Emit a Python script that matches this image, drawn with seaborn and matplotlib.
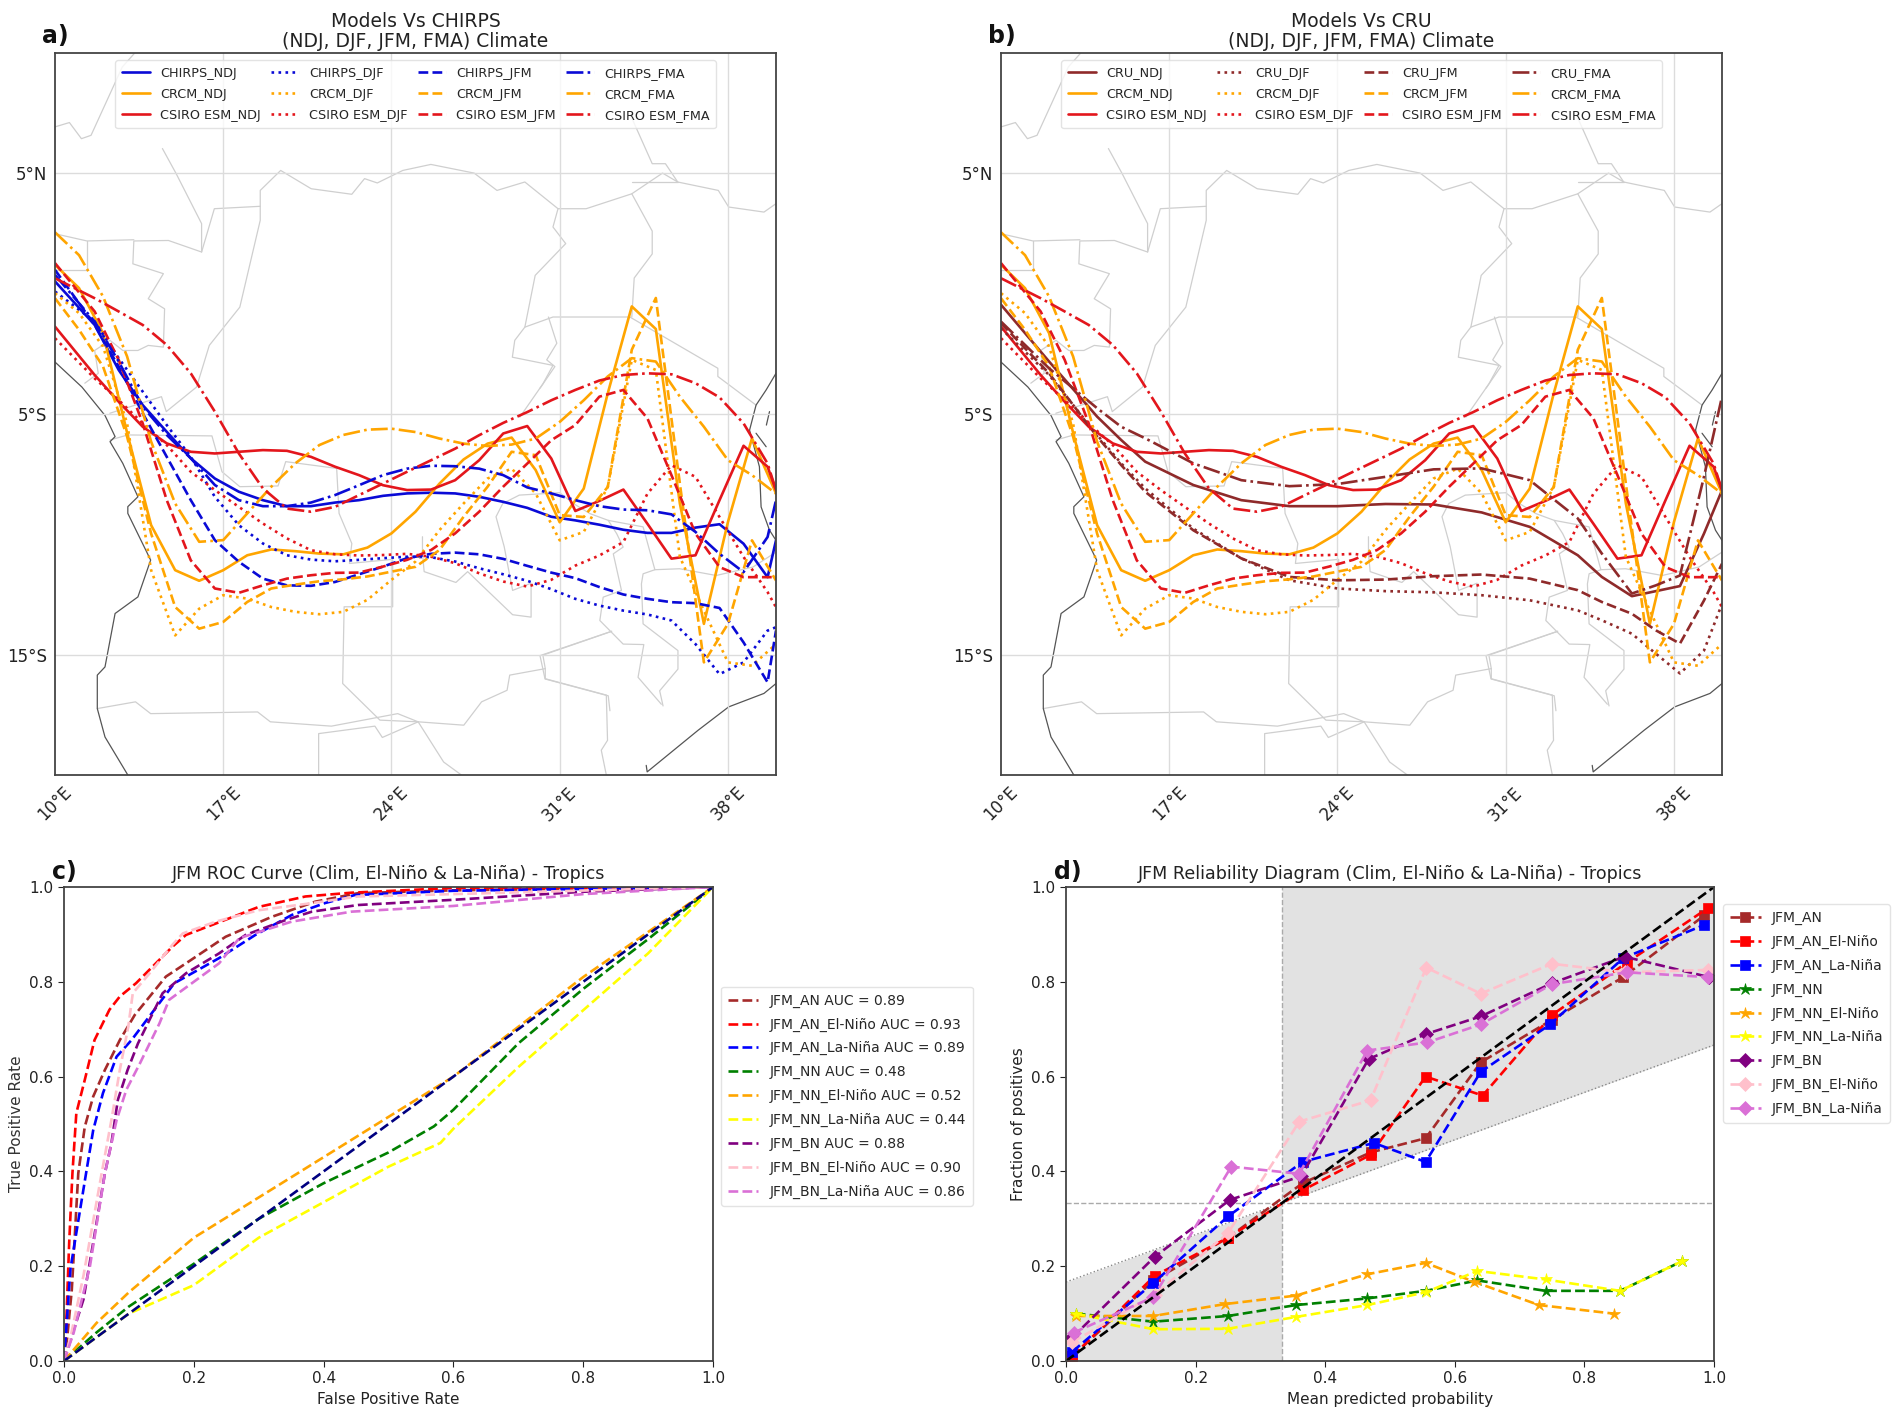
import matplotlib
matplotlib.use("Agg")
import matplotlib.pyplot as plt
import seaborn as sns

sns.set_style("white")
plt.rcParams["font.family"] = ["DejaVu Sans"]

W, H = 1902, 1418

# ---- map panels: latitude of each line against longitude ----
crcm_lon = list(range(10, 41))
csiro_lon = [10, 11.65, 12.65, 13.65, 14.65, 15.65, 16.65, 17.65, 18.65, 19.65, 20.65, 21.65, 22.65, 23.65, 24.65,
             25.65, 26.65, 27.65, 28.65, 29.65, 30.65, 31.65, 32.65, 33.65, 34.65, 35.65, 36.65, 37.65, 38.65, 39.65, 40]
cru_lon = [10, 12, 14, 15, 16, 18, 20, 22, 24, 26, 28, 30, 32, 34, 35, 36.25, 37.25, 38.25, 39.25, 40]

chirps_ndj = [0.51, -1.3, -3.17, -4.63, -5.74, -6.84, -7.68, -8.23, -8.58, -8.83, -8.83, -8.68, -8.58, -8.4, -8.3,
              -8.27, -8.3, -8.44, -8.65, -8.9, -9.27, -9.42, -9.6, -9.81, -9.94, -9.94, -9.72, -9.58, -10.39, -11.78, -10.25]
chirps_djf = [0.09, -1.16, -2.68, -4.07, -5.46, -6.78, -8.44, -9.62, -10.38, -10.87, -11.05, -11.12, -11.06, -10.99, -10.93,
              -10.95, -11.13, -11.41, -11.66, -11.93, -12.28, -12.68, -12.96, -13.17, -13.33, -13.58, -14.56, -15.81, -15.32, -14.0, -13.86]
chirps_jfm = [0.99, -1.3, -3.03, -4.97, -6.78, -8.58, -10.24, -11.14, -11.84, -12.12, -12.14, -11.98, -11.66, -11.34, -10.99,
              -10.81, -10.76, -10.83, -11.02, -11.31, -11.59, -11.82, -12.19, -12.5, -12.68, -12.82, -12.86, -13.06, -14.49, -16.15, -14.0]
chirps_fma = [0.78, -1.16, -2.82, -4.69, -5.87, -6.84, -7.95, -8.58, -8.83, -8.83, -8.68, -8.37, -7.96, -7.54, -7.27,
              -7.15, -7.17, -7.27, -7.54, -8.05, -8.3, -8.58, -8.83, -8.97, -9.0, -9.17, -9.9, -10.81, -11.57, -10.11, -8.58]

crcm_ndj = [1.2, 0.23, -1.64, -5.78, -9.62, -11.49, -11.93, -11.49, -10.87, -10.63, -10.7, -10.8, -10.83, -10.55, -9.96,
            -9.06, -7.89, -6.89, -6.23, -5.98, -7.33, -9.5, -8.1, -4.14, -0.53, -1.47, -8.72, -13.72, -9.49, -6.01, -8.3]
crcm_djf = [0.02, -0.81, -2.2, -5.39, -11.49, -14.2, -13.09, -12.53, -12.67, -13.02, -13.22, -13.32, -13.22, -12.72, -11.89,
            -11.13, -9.82, -8.72, -7.68, -7.27, -8.3, -10.25, -9.9, -8.03, -2.75, -3.17, -10.94, -13.17, -15.32, -15.46, -14.56]
crcm_jfm = [-0.19, -1.5, -3.03, -5.94, -9.97, -13.02, -13.92, -13.64, -12.81, -12.25, -12.09, -11.95, -11.87, -11.75, -11.55,
            -11.35, -10.65, -9.27, -8.02, -6.57, -6.71, -9.2, -9.28, -8.03, -2.33, -0.18, -7.89, -15.32, -13.72, -10.25, -11.92]
crcm_fma = [2.55, 1.6, -0.12, -2.61, -6.15, -8.72, -10.31, -10.24, -9.13, -8.02, -7.05, -6.29, -5.87, -5.65, -5.61,
            -5.75, -6.02, -6.23, -6.33, -6.27, -6.02, -5.33, -4.43, -3.44, -2.68, -2.82, -4.28, -5.53, -6.92, -7.54, -8.31]

csiro_ndj = [-1.37, -3.38, -4.49, -5.53, -6.22, -6.57, -6.64, -6.57, -6.5, -6.53, -6.78, -7.19, -7.54, -7.96, -8.16,
             -8.14, -7.75, -6.92, -5.81, -5.5, -6.85, -9.03, -8.61, -8.14, -9.56, -11.01, -10.87, -8.58, -6.32, -7.19, -8.17]
csiro_djf = [-1.85, -3.52, -4.42, -5.39, -6.29, -7.4, -8.16, -8.86, -9.55, -10.17, -10.66, -10.83, -10.88, -10.86, -10.81,
             -10.93, -11.2, -11.62, -11.96, -12.17, -11.89, -11.3, -10.88, -10.32, -8.31, -7.13, -7.61, -9.28, -10.94, -12.4, -13.03]
csiro_jfm = [1.27, -0.74, -2.75, -5.39, -8.58, -11.08, -12.25, -12.43, -12.12, -11.84, -11.7, -11.6, -11.59, -11.34, -11.06,
             -10.65, -9.96, -9.06, -8.02, -7.06, -6.09, -5.46, -4.28, -4.0, -5.18, -7.54, -9.97, -11.36, -11.78, -11.78, -11.78]
csiro_fma = [0.64, -0.19, -0.74, -1.3, -2.13, -3.31, -4.9, -6.64, -8.09, -8.93, -9.06, -8.86, -8.37, -7.89, -7.4,
             -6.92, -6.44, -5.88, -5.37, -4.92, -4.43, -4.0, -3.61, -3.38, -3.31, -3.35, -3.72, -4.31, -5.39, -7.06, -8.17]

cru_ndj = [-0.46, -2.82, -5.11, -6.08, -6.98, -7.95, -8.58, -8.83, -8.83, -8.74, -8.76, -9.09, -9.69, -10.87, -11.77, -12.57, -12.36, -12.15, -9.97, -8.17]
cru_djf = [-1.44, -3.38, -5.87, -7.05, -8.09, -9.76, -11.0, -11.91, -12.25, -12.36, -12.41, -12.53, -12.74, -13.16, -13.57, -14.13, -14.96, -15.78, -14.83, -12.89]
cru_jfm = [-1.23, -3.31, -5.94, -7.12, -8.23, -9.83, -11.0, -11.77, -11.91, -11.88, -11.74, -11.67, -11.84, -12.32, -12.81, -13.3, -13.99, -14.54, -12.75, -11.22]
cru_fma = [-1.16, -3.1, -4.76, -5.53, -6.01, -7.05, -7.75, -8.0, -7.91, -7.61, -7.3, -7.26, -7.75, -9.34, -10.8, -12.46, -12.12, -11.71, -7.61, -4.28]

seasons = ["NDJ", "DJF", "JFM", "FMA"]
season_styles = ["-", ":", "--", "-."]
map_lon_ticks = [10, 17, 24, 31, 38]
map_lat_ticks = [5, -5, -15]

# country borders and coast as (lon, lat)
border_lines = [
    [(10, 6.93), (10.6, 7.11), (11.1, 6.44), (11.5, 6.58), (12.8, 9.42), (13.3, 9.98)],
    [(14.47, 6.03), (15.04, 4.99), (16.1, 2.91), (16.1, 1.73), (14.72, 2.21), (13.28, 2.19), (13.24, 1.24), (14.51, 0.83),
     (13.88, -0.21), (14.56, -0.63), (14.51, -2.22), (13.88, -2.15), (13.45, -2.36), (12.82, -2.36), (12.29, -1.94), (11.65, -2.36), (11.8, -3.31), (11.24, -3.72)],
    [(10, 2.49), (11.33, 2.19), (13.28, 2.24)],
    [(11.33, 2.19), (11.33, 0.97), (10, 0.97)],
    [(16.1, 1.73), (16.63, 3.53), (18.54, 3.63), (18.54, 4.29), (19.39, 5.12), (20.66, 4.36), (22.35, 4.13), (22.88, 4.78), (23.41, 4.6),
     (24.47, 5.12), (25.64, 5.37), (27.44, 5.01), (28.39, 4.29), (29.55, 4.64), (30.93, 3.53), (32.1, 3.53), (34.0, 4.15), (35.28, 5.01),
     (35.91, 4.64), (37.6, 4.29), (38.03, 3.6), (39.5, 3.39), (40, 3.74)],
    [(34.0, 4.15), (34.85, 2.6), (34.85, 1.65), (34.1, 0.65), (34.0, -0.97)],
    [(35.91, 4.64), (35.4, 5.4), (34.85, 5.4), (34.0, 7.3)],
    [(34.0, 4.64), (35.91, 4.64)],
    [(30.93, 3.53), (30.72, 2.77), (31.25, 2.08), (29.98, 0.76), (29.55, -1.39), (29.13, -1.94), (29.03, -2.64), (30.72, -2.98), (30.3, -3.75), (29.34, -5.13)],
    [(29.55, -1.39), (30.72, -0.97), (33.92, -0.97), (37.58, -3.1), (37.58, -3.44), (39.17, -4.63)],
    [(30.53, -0.97), (30.88, -2.06), (30.46, -2.75), (30.8, -3.03), (30.18, -3.93)],
    [(18.54, 3.63), (18.54, 3.05), (17.69, -0.56), (16.42, -2.15), (15.89, -3.88), (14.63, -4.9), (14.43, -4.28), (12.28, -4.97)],
    [(12.29, -6.08), (13.03, -5.87), (16.53, -5.91), (16.95, -7.4), (17.69, -8.02), (19.28, -7.99), (19.6, -6.98), (21.72, -7.26), (21.82, -9.13),
     (22.35, -10.38), (22.25, -11.21), (24.05, -11.04), (24.05, -13.01), (22.03, -13.01), (21.97, -16.2), (23.52, -17.72), (25.11, -17.79), (26.17, -19.46), (26.91, -20)],
    [(11.76, -17.24), (13.35, -16.96), (13.98, -17.45), (18.43, -17.38), (18.96, -17.79), (21.5, -17.97), (24.26, -17.45), (25.11, -17.79),
     (27.01, -17.93), (27.75, -16.96), (28.81, -16.48), (28.92, -15.85), (30.4, -15.58), (30.3, -15.02), (33.16, -14.03)],
    [(30.4, -15.58), (30.4, -16.0), (32.94, -16.68), (32.99, -18.56), (32.73, -18.97), (32.94, -20)],
    [(20.97, -20), (20.97, -18.28), (23.31, -17.97), (23.62, -18.44), (25.11, -17.79)],
    [(25.29, -10.1), (25.29, -10.79), (25.36, -11.55), (26.68, -12.0), (27.17, -11.55), (29.04, -13.34), (29.81, -13.44), (29.81, -12.03), (29.04, -12.33),
     (28.69, -10.51), (28.35, -9.27), (28.63, -8.72), (29.32, -8.37), (31, -8.27), (31.57, -8.72), (32.26, -9.14), (33.02, -9.42), (34.47, -9.69),
     (34.96, -11.47), (34.47, -11.64), (34.4, -12.06), (34.47, -13.72), (35.92, -14.83), (35.92, -15.6), (35.16, -16.5), (35.3, -17.13)],
    [(33.02, -9.42), (33.37, -9.97), (33.64, -10.53), (33.23, -10.81), (33.57, -12.33), (32.81, -12.61), (32.67, -13.58), (33.64, -14.56), (34.5, -14.58), (34.26, -15.94), (35.23, -17.06)],
    [(34.96, -11.47), (35.99, -11.43), (37.51, -11.71), (39.04, -11.36), (40, -10.74)],
    [(30.18, -15.04), (33.16, -14.03)],
    [(30.18, -15.04), (30.39, -16.01), (33.02, -16.71), (33.09, -17.33)],
]
coast_lines = [
    [(10, -2.84), (11.12, -3.88), (12.08, -5.06), (12.5, -5.94), (12.29, -6.15), (12.82, -7.05), (13.45, -8.44), (13.03, -8.85), (13.03, -9.13),
     (13.98, -11.07), (13.45, -12.6), (12.5, -13.29), (12.08, -15.51), (11.76, -15.85), (11.76, -17.24), (12.08, -18.42), (13.03, -20)],
    [(40, -3.31), (39.59, -4.0), (39.17, -4.63), (38.9, -5.67), (39.31, -7.19), (39.38, -8.86), (39.73, -9.83), (40, -10.25)],
    [(39.73, -4.9), (39.6, -5.46)],
    [(39.17, -5.8), (39.59, -6.36)],
    [(40, -16.2), (39.5, -16.61), (38.03, -17.17), (36.76, -18.14), (34.64, -19.87), (34.6, -19.6)],
]

# ---- ROC curves ----
roc_an_x = [0, 0.005, 0.012, 0.022, 0.032, 0.045, 0.063, 0.086, 0.109, 0.157, 0.188, 0.249, 0.32, 0.387, 0.453, 0.6, 1]
roc_an_y = [0, 0.05, 0.15, 0.396, 0.494, 0.558, 0.614, 0.677, 0.73, 0.811, 0.839, 0.895, 0.937, 0.969, 0.987, 0.993, 1]
roc_an_en_x = [0, 0.004, 0.008, 0.013, 0.019, 0.032, 0.047, 0.07, 0.086, 0.111, 0.167, 0.188, 0.234, 0.3, 0.372, 0.443, 0.6, 1]
roc_an_en_y = [0, 0.1, 0.25, 0.396, 0.523, 0.593, 0.677, 0.741, 0.769, 0.797, 0.874, 0.899, 0.923, 0.958, 0.98, 0.988, 0.998, 1]
roc_an_ln_x = [0, 0.01, 0.034, 0.045, 0.06, 0.081, 0.104, 0.137, 0.17, 0.239, 0.295, 0.351, 0.402, 0.448, 0.6, 1]
roc_an_ln_y = [0, 0.195, 0.396, 0.487, 0.565, 0.642, 0.677, 0.737, 0.797, 0.85, 0.899, 0.941, 0.966, 0.983, 0.992, 1]
roc_nn_x = [0, 0.05, 0.1, 0.2, 0.3, 0.4, 0.5, 0.57, 0.6, 0.7, 0.8, 0.9, 1]
roc_nn_y = [0, 0.06, 0.115, 0.205, 0.3, 0.375, 0.44, 0.495, 0.53, 0.67, 0.785, 0.89, 1]
roc_nn_en_x = [0, 0.05, 0.1, 0.2, 0.3, 0.4, 0.5, 0.6, 0.7, 0.8, 0.9, 1]
roc_nn_en_y = [0, 0.08, 0.145, 0.26, 0.345, 0.43, 0.515, 0.6, 0.705, 0.81, 0.905, 1]
roc_nn_ln_x = [0, 0.1, 0.2, 0.3, 0.4, 0.5, 0.58, 0.6, 0.7, 0.8, 0.9, 1]
roc_nn_ln_y = [0, 0.1, 0.16, 0.26, 0.335, 0.41, 0.46, 0.49, 0.62, 0.74, 0.86, 1]
roc_bn_x = [0, 0.03, 0.045, 0.063, 0.073, 0.083, 0.098, 0.114, 0.134, 0.152, 0.188, 0.239, 0.28, 0.341, 0.382, 0.453, 0.6, 0.8, 1]
roc_bn_y = [0, 0.13, 0.25, 0.396, 0.459, 0.551, 0.614, 0.67, 0.726, 0.776, 0.818, 0.86, 0.899, 0.93, 0.948, 0.962, 0.973, 0.99, 1]
roc_bn_en_x = [0, 0.01, 0.03, 0.058, 0.073, 0.086, 0.099, 0.106, 0.132, 0.167, 0.183, 0.234, 0.3, 0.382, 0.453, 0.6, 1]
roc_bn_en_y = [0, 0.05, 0.18, 0.396, 0.508, 0.614, 0.705, 0.776, 0.818, 0.878, 0.902, 0.927, 0.951, 0.966, 0.98, 0.985, 1]
roc_bn_ln_x = [0, 0.015, 0.04, 0.063, 0.081, 0.096, 0.117, 0.147, 0.162, 0.239, 0.27, 0.351, 0.443, 0.6, 0.8, 1]
roc_bn_ln_y = [0, 0.06, 0.2, 0.396, 0.508, 0.572, 0.628, 0.712, 0.762, 0.839, 0.892, 0.927, 0.948, 0.96, 0.985, 1]

# ---- reliability diagram ----
rel_an_x = [0.01, 0.135, 0.25, 0.365, 0.47, 0.555, 0.64, 0.75, 0.86, 0.985]
rel_an_y = [0.01, 0.17, 0.26, 0.375, 0.44, 0.47, 0.63, 0.72, 0.81, 0.94]
rel_an_en_x = [0.01, 0.137, 0.25, 0.365, 0.47, 0.555, 0.643, 0.75, 0.865, 0.99]
rel_an_en_y = [0.01, 0.18, 0.26, 0.36, 0.435, 0.60, 0.56, 0.73, 0.84, 0.955]
rel_an_ln_x = [0.01, 0.135, 0.25, 0.365, 0.475, 0.555, 0.64, 0.747, 0.86, 0.985]
rel_an_ln_y = [0.02, 0.165, 0.305, 0.42, 0.46, 0.42, 0.61, 0.71, 0.85, 0.92]
rel_nn_x = [0.015, 0.135, 0.25, 0.355, 0.465, 0.555, 0.635, 0.74, 0.855, 0.95]
rel_nn_y = [0.10, 0.083, 0.095, 0.118, 0.132, 0.148, 0.17, 0.148, 0.148, 0.21]
rel_nn_en_x = [0.015, 0.135, 0.245, 0.355, 0.465, 0.555, 0.63, 0.73, 0.845]
rel_nn_en_y = [0.095, 0.095, 0.12, 0.138, 0.183, 0.207, 0.167, 0.118, 0.10]
rel_nn_ln_x = [0.015, 0.135, 0.25, 0.355, 0.465, 0.555, 0.635, 0.74, 0.855, 0.95]
rel_nn_ln_y = [0.10, 0.067, 0.068, 0.093, 0.118, 0.145, 0.19, 0.172, 0.148, 0.21]
rel_bn_x = [0.01, 0.137, 0.253, 0.363, 0.467, 0.556, 0.64, 0.75, 0.862, 0.992]
rel_bn_y = [0.05, 0.22, 0.34, 0.39, 0.637, 0.69, 0.727, 0.797, 0.853, 0.81]
rel_bn_en_x = [0.01, 0.137, 0.25, 0.36, 0.47, 0.556, 0.64, 0.75, 0.862, 0.99]
rel_bn_en_y = [0.04, 0.14, 0.27, 0.505, 0.55, 0.83, 0.775, 0.838, 0.82, 0.825]
rel_bn_ln_x = [0.012, 0.135, 0.255, 0.36, 0.465, 0.557, 0.64, 0.75, 0.865, 0.99]
rel_bn_ln_y = [0.06, 0.135, 0.41, 0.395, 0.655, 0.672, 0.71, 0.795, 0.82, 0.81]

cat_labels = ["JFM_AN", "JFM_AN_El-Niño", "JFM_AN_La-Niña", "JFM_NN", "JFM_NN_El-Niño", "JFM_NN_La-Niña",
              "JFM_BN", "JFM_BN_El-Niño", "JFM_BN_La-Niña"]
cat_colors = ["brown", "red", "blue", "green", "orange", "yellow", "purple", "pink", "orchid"]
cat_markers = ["s", "s", "s", "*", "*", "*", "D", "D", "D"]
auc_values = ["0.89", "0.93", "0.89", "0.48", "0.52", "0.44", "0.88", "0.90", "0.86"]
roc_x = [roc_an_x, roc_an_en_x, roc_an_ln_x, roc_nn_x, roc_nn_en_x, roc_nn_ln_x, roc_bn_x, roc_bn_en_x, roc_bn_ln_x]
roc_y = [roc_an_y, roc_an_en_y, roc_an_ln_y, roc_nn_y, roc_nn_en_y, roc_nn_ln_y, roc_bn_y, roc_bn_en_y, roc_bn_ln_y]
rel_x = [rel_an_x, rel_an_en_x, rel_an_ln_x, rel_nn_x, rel_nn_en_x, rel_nn_ln_x, rel_bn_x, rel_bn_en_x, rel_bn_ln_x]
rel_y = [rel_an_y, rel_an_en_y, rel_an_ln_y, rel_nn_y, rel_nn_en_y, rel_nn_ln_y, rel_bn_y, rel_bn_en_y, rel_bn_ln_y]

fig = plt.figure(figsize=(W / 100, H / 100), dpi=100)


def make_axes(left, right, top, bottom):
    # pixel box to figure fractions
    ax = fig.add_axes([left / W, 1 - bottom / H, (right - left) / W, (bottom - top) / H])
    for s in ax.spines.values():
        s.set_color("#444444")
        s.set_linewidth(1.3)
    return ax


def draw_line(ax, x, y, color, ls, label=None, lw=1.9, **kw):
    sns.lineplot(x=x, y=y, ax=ax, color=color, linestyle=ls, linewidth=lw, label=label,
                 sort=False, estimator=None, errorbar=None, legend=False, **kw)


def draw_map(ax, obs_name, obs_color, obs_lon, obs_series, title):
    for line in border_lines:
        ax.plot([p[0] for p in line], [p[1] for p in line], color="#cfcfcf", lw=0.9, zorder=1)
    for line in coast_lines:
        ax.plot([p[0] for p in line], [p[1] for p in line], color="#555555", lw=0.9, zorder=1)
    for lon in map_lon_ticks[1:]:
        ax.axvline(lon, color="#dcdcdc", lw=1.0, zorder=1)
    for lat in map_lat_ticks:
        ax.axhline(lat, color="#dcdcdc", lw=1.0, zorder=1)

    crcm = [crcm_ndj, crcm_djf, crcm_jfm, crcm_fma]
    csiro = [csiro_ndj, csiro_djf, csiro_jfm, csiro_fma]
    for i, season in enumerate(seasons):
        ls = season_styles[i]
        draw_line(ax, obs_lon, obs_series[i], obs_color, ls, f"{obs_name}_{season}")
        draw_line(ax, crcm_lon, crcm[i], "orange", ls, f"CRCM_{season}")
        draw_line(ax, csiro_lon, csiro[i], "#e3161c", ls, f"CSIRO ESM_{season}")

    ax.set_xlim(10, 40)
    ax.set_ylim(-20, 10)
    ax.set_xticks(map_lon_ticks)
    ax.set_xticklabels([f"{v}°E" for v in map_lon_ticks], rotation=45, fontsize=12, color="#222222")
    ax.set_yticks(map_lat_ticks)
    ax.set_yticklabels(["5°N", "5°S", "15°S"], fontsize=12, color="#222222")
    ax.tick_params(length=0, pad=6)
    ax.set_title(title, fontsize=13.5, pad=4, linespacing=1.1, color="#222222")
    handles, labels = ax.get_legend_handles_labels()
    ax.legend(handles, labels, ncol=4, loc="upper center", bbox_to_anchor=(0.5, 0.99), fontsize=9.2,
              frameon=True, framealpha=0.8, edgecolor="#dddddd", columnspacing=0.8, handlelength=2.2,
              handletextpad=0.8, labelspacing=0.64, borderpad=0.5, borderaxespad=0)


# a) and b)
ax_a = make_axes(55, 776, 53, 775)
ax_b = make_axes(1001, 1722, 53, 775)
draw_map(ax_a, "CHIRPS", "#0a0ad6", csiro_lon, [chirps_ndj, chirps_djf, chirps_jfm, chirps_fma],
         "Models Vs CHIRPS\n(NDJ, DJF, JFM, FMA) Climate")
draw_map(ax_b, "CRU", "#8f2a2a", cru_lon, [cru_ndj, cru_djf, cru_jfm, cru_fma],
         "Models Vs CRU\n(NDJ, DJF, JFM, FMA) Climate")

# c) ROC
ax_c = make_axes(64, 713, 887, 1361)
for i in range(9):
    draw_line(ax_c, roc_x[i], roc_y[i], cat_colors[i], "--", f"{cat_labels[i]} AUC = {auc_values[i]}")
draw_line(ax_c, [0, 1], [0, 1], "navy", "--")
ax_c.set_xlim(0, 1)
ax_c.set_ylim(0, 1)
ax_c.set_title("JFM ROC Curve (Clim, El-Niño & La-Niña) - Tropics", fontsize=12.6, pad=6, color="#222222")
ax_c.set_xlabel("False Positive Rate", fontsize=11, color="#222222")
ax_c.set_ylabel("True Positive Rate", fontsize=11, color="#333333")
ax_c.tick_params(bottom=True, left=True, length=4, labelsize=11, colors="#222222")
ax_c.legend(loc="center left", bbox_to_anchor=(1.012, 0.559), fontsize=10, frameon=True, edgecolor="#dddddd",
            labelspacing=0.7, handlelength=2.2, borderpad=0.5, borderaxespad=0)

# d) reliability
ax_d = make_axes(1066, 1714, 887, 1361)
ax_d.fill_between([0, 1 / 3], [0, 0], [1 / 6, 1 / 3], color="#e2e2e2", lw=0, zorder=0)
ax_d.fill_between([1 / 3, 1], [1 / 3, 2 / 3], [1, 1], color="#e2e2e2", lw=0, zorder=0)
ax_d.axhline(1 / 3, color="#aaaaaa", lw=1, ls="--", zorder=1)
ax_d.axvline(1 / 3, color="#aaaaaa", lw=1, ls="--", zorder=1)
ax_d.plot([0, 1], [1 / 6, 2 / 3], color="#888888", lw=1, ls=":", zorder=1)
for i in range(9):
    ms = 9 if cat_markers[i] == "*" else 7
    draw_line(ax_d, rel_x[i], rel_y[i], cat_colors[i], "--", cat_labels[i], marker=cat_markers[i], markersize=ms,
              markeredgecolor=cat_colors[i], markeredgewidth=0.5)
draw_line(ax_d, [0, 1], [0, 1], "black", "--")
ax_d.set_xlim(0, 1)
ax_d.set_ylim(0, 1)
ax_d.set_title("JFM Reliability Diagram (Clim, El-Niño & La-Niña) - Tropics", fontsize=12.6, pad=6, color="#222222")
ax_d.set_xlabel("Mean predicted probability", fontsize=11, color="#222222")
ax_d.set_ylabel("Fraction of positives", fontsize=11, color="#222222")
ax_d.tick_params(bottom=True, left=True, length=4, labelsize=11, colors="#222222")
ax_d.legend(loc="upper left", bbox_to_anchor=(1.014, 0.964), fontsize=10, frameon=True, edgecolor="#dddddd",
            labelspacing=0.7, handlelength=2.2, borderpad=0.5, borderaxespad=0)

# panel letters
for txt, px, py in [("a)", 42, 36), ("b)", 988, 36), ("c)", 52, 872), ("d)", 1054, 872)]:
    fig.text(px / W, 1 - py / H, txt, fontsize=17, fontweight="bold", ha="left", va="center", color="#111111")

fig.savefig("out.png", dpi=100)
